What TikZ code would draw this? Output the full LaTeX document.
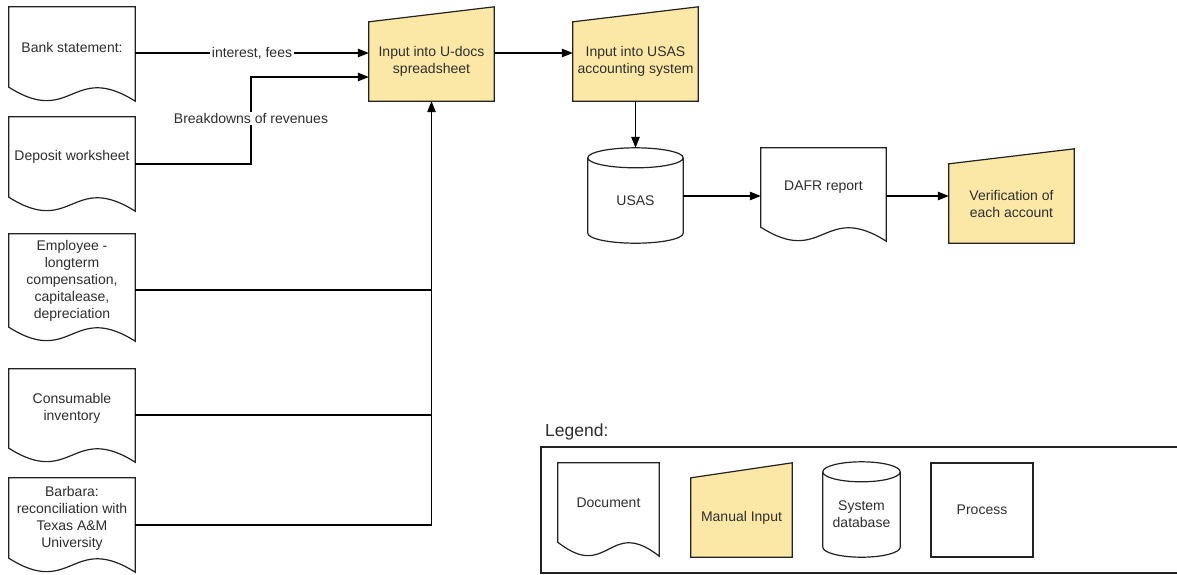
\documentclass[tikz,border=0pt]{standalone}
\usepackage{fontspec}
\setmainfont{Liberation Sans}
\usetikzlibrary{arrows.meta,calc,backgrounds}
\definecolor{mi}{HTML}{FCE8A6}
\definecolor{txt}{HTML}{2E2E2E}
\definecolor{ln}{HTML}{222222}
\tikzset{
  box/.style={draw=none, rectangle, inner sep=0pt, align=center, text=txt, font=\fontsize{14}{17}\selectfont},
  shapeline/.style={draw=ln, line width=1.2pt, line join=miter},
  conn/.style={draw=black, line width=1.2pt},
  arr/.style={conn, -{Triangle[length=11pt,width=8.5pt]}},
  lbl/.style={fill=white, inner sep=1.5pt, text=txt, font=\fontsize{14}{17}\selectfont},
}
\newcommand{\docshape}[1]{%
  \path[shapeline, fill=white] let \p1=(#1.south west), \p2=(#1.south east), \n1={\x2-\x1} in
  (#1.south west) -- (#1.north west) -- (#1.north east) -- (\x2,{\y2-14pt})
  .. controls ({\x1+0.5*\n1},{\y1+26pt}) and ({\x1+0.5*\n1},{\y1-40pt}) .. (\p1) -- cycle;}
\newcommand{\mishape}[1]{%
  \path[shapeline, fill=mi] (#1.south west) -- (#1.north west) -- ([yshift=15pt]#1.north east) -- (#1.south east) -- cycle;}
\newcommand{\cylshape}[1]{%
  \path[shapeline, fill=white] let \p1=(#1.north west), \p2=(#1.north east), \n1={0.5*(\x2-\x1)} in
  (#1.north west) -- ([yshift=10pt]#1.south west)
  arc[start angle=180, end angle=360, x radius={\n1}, y radius=10pt] -- (#1.north east)
  arc[start angle=0, end angle=180, x radius={\n1}, y radius=10pt] -- cycle
  (#1.north west) arc[start angle=180, end angle=360, x radius={\n1}, y radius=10pt];}
\begin{document}
\begin{tikzpicture}[x=1pt, y=-1pt]
\useasboundingbox (0,0) rectangle (1177,574);
% documents (straight part of each shape)
\node[box, minimum width=126, minimum height=80] (bank) at (72,47) {Bank statement:};
\node[box, minimum width=126, minimum height=80] (deposit) at (72,157) {Deposit worksheet};
\node[box, minimum width=126, minimum height=93] (emp) at (72,280.5) {Employee -\\longterm\\compensation,\\capitalease,\\depreciation};
\node[box, minimum width=126, minimum height=79] (cons) at (72,408.5) {Consumable\\inventory};
\node[box, minimum width=126, minimum height=80] (barb) at (72,518) {Barbara:\\reconciliation with\\Texas A\&M\\University};
% manual inputs
\node[box, minimum width=125, minimum height=79] (udocs) at (431.5,61.5) {Input into U-docs\\spreadsheet};
\node[box, minimum width=125, minimum height=79] (usasin) at (635.5,61.5) {Input into USAS\\accounting system};
\node[box, minimum width=125, minimum height=79] (verif) at (1011.5,203.5) {Verification of\\each account};
% database and report
\node[box, minimum width=95, minimum height=85] (usas) at (635.5,200.5) {USAS};
\node[box, minimum width=125, minimum height=79] (dafr) at (823.5,187.5) {DAFR report};
% legend
\node[anchor=west, inner sep=0pt, text=txt, font=\fontsize{17.5}{20}\selectfont] (legtitle) at (545,432) {Legend:};
\node[box, minimum width=101, minimum height=79] (ldoc) at (608.5,502.5) {Document};
\node[box, minimum width=101, minimum height=79] (lmi) at (741.5,517.5) {Manual Input};
\node[box, minimum width=77, minimum height=85] (ldb) at (861.5,514.5) {System\\database};
\node[box, minimum width=102, minimum height=94, draw=ln, line width=1.2pt] (lproc) at (982,510) {Process};
\begin{scope}[on background layer]
  \fill[white] (0,0) rectangle (1177,574);
  \docshape{bank}\docshape{deposit}\docshape{emp}\docshape{cons}\docshape{barb}
  \docshape{dafr}\docshape{ldoc}
  \mishape{udocs}\mishape{usasin}\mishape{verif}\mishape{lmi}
  \cylshape{usas}\cylshape{ldb}
  \draw[draw=ln, line width=1.2pt] (1180,447) -- (541,447) -- (541,573) -- (1180,573);
\end{scope}
% connectors
\draw[arr] (bank.east |- 0,53) -- node[lbl, pos=0.5] (lint) {interest, fees} (udocs.west |- 0,53);
\coordinate (bj) at (251,77);
\draw[arr] (deposit.east |- 0,164) -| node[lbl, pos=0.76] (lbrk) {Breakdowns of revenues} (bj) -- (udocs.west |- bj);
\draw[conn] (emp.east |- 0,290) -- (udocs.south |- 0,290);
\draw[conn] (cons.east |- 0,415) -- (udocs.south |- 0,415);
\draw[arr] (barb.east |- 0,525) -| (udocs.south);
\draw[arr] (udocs.east |- 0,53) -- (usasin.west |- 0,53);
\draw[arr] (usasin.south) -- ([yshift=10pt]usas.north);
\draw[arr] (usas.east |- 0,196) -- (dafr.west |- 0,196);
\draw[arr] (dafr.east |- 0,196) -- (verif.west |- 0,196);
\end{tikzpicture}
\end{document}
